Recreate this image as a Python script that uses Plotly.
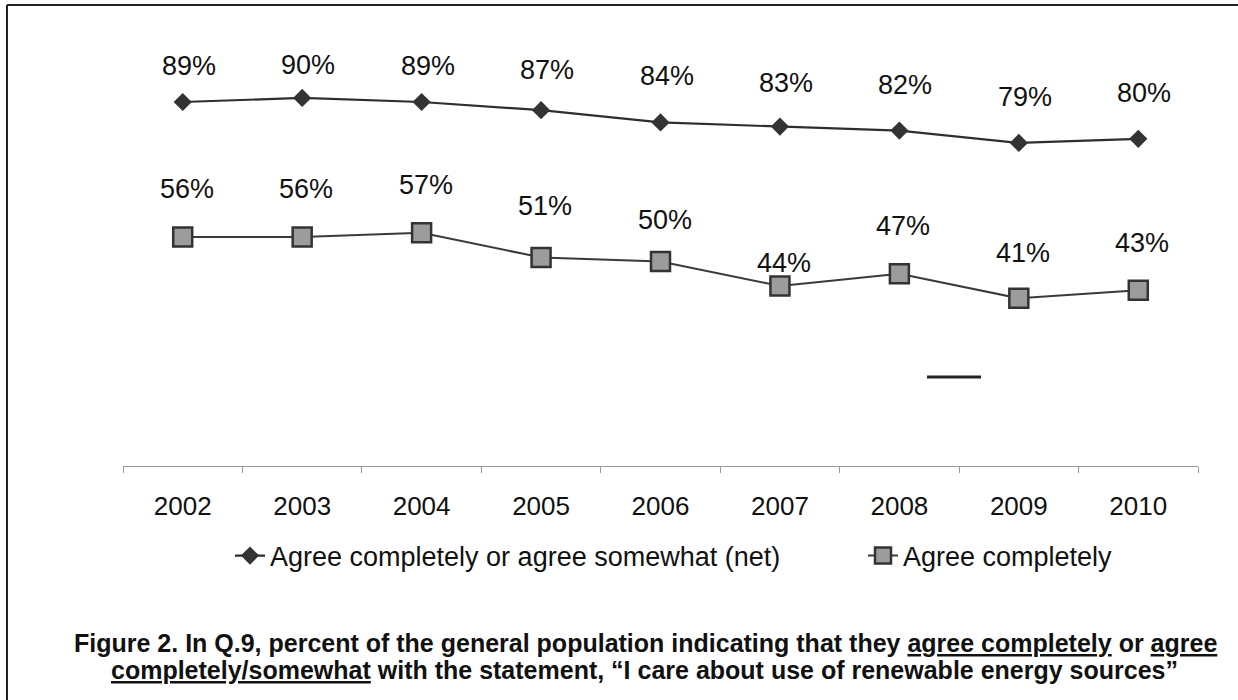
import plotly.graph_objects as go

years = ["2002", "2003", "2004", "2005", "2006", "2007", "2008", "2009", "2010"]
net_agree = [89, 90, 89, 87, 84, 83, 82, 79, 80]
complete_agree = [56, 56, 57, 51, 50, 44, 47, 41, 43]
series_names = ["Agree completely or agree somewhat (net)", "Agree completely"]

# label vertical offsets (px) as placed in the original
net_label_shift = [36, 33, 36, 40, 46, 44, 46, 46, 46]
comp_label_shift = [48, 48, 48, 51, 42, 23, 48, 45, 47]

FONT = "Liberation Sans, Arial, sans-serif"

fig = go.Figure()
fig.add_trace(go.Scatter(
    x=years, y=net_agree, name=series_names[0], mode="lines+markers",
    line=dict(color="#2e2e2e", width=2.2),
    marker=dict(symbol="diamond", size=14, color="#333333", line=dict(width=0)),
    legend="legend",
))
fig.add_trace(go.Scatter(
    x=years, y=complete_agree, name=series_names[1], mode="lines+markers",
    line=dict(color="#3a3a3a", width=2),
    marker=dict(symbol="square", size=19, color="#9c9c9c", line=dict(color="#333333", width=2.5)),
    legend="legend2",
))

annotations = []
for i, (v, s) in enumerate(zip(net_agree, net_label_shift)):
    annotations.append(dict(x=i, y=v, xref="x", yref="y", text=f"{v}%", showarrow=False,
                            yshift=s, xshift=6,
                            font=dict(family=FONT, size=27, color="#111111")))
for i, (v, s) in enumerate(zip(complete_agree, comp_label_shift)):
    annotations.append(dict(x=i, y=v, xref="x", yref="y", text=f"{v}%", showarrow=False,
                            yshift=s, xshift=4,
                            font=dict(family=FONT, size=27, color="#111111")))

# Caption
L, R, T, B = 123, 40, 57, 234
W, H = 1238 - L - R, 700 - T - B
def px(p):
    return (p - L) / W
def py(p):
    return (700 - B - p) / H

cap_font = dict(family="Liberation Sans, Arial", size=25, color="#111111")
annotations.append(dict(xref="paper", yref="paper", x=px(645), y=py(643), showarrow=False,
    text="<b>Figure 2. In Q.9, percent of the general population indicating that they <u>agree completely</u> or <u>agree</u></b>",
    font=cap_font, xanchor="center", yanchor="middle"))
annotations.append(dict(xref="paper", yref="paper", x=px(644), y=py(670), showarrow=False,
    text="<b><u>completely/somewhat</u> with the statement, \u201cI care about use of renewable energy sources\u201d</b>",
    font=cap_font, xanchor="center", yanchor="middle"))

shapes = [
    # outer frame (left and top edges visible)
    dict(type="line", xref="paper", yref="paper", x0=px(7), x1=px(1238), y0=py(5), y1=py(5),
         line=dict(color="#222222", width=2)),
    dict(type="line", xref="paper", yref="paper", x0=px(7), x1=px(7), y0=py(5), y1=py(700),
         line=dict(color="#222222", width=2)),
    # stray mark
    dict(type="line", xref="paper", yref="paper", x0=px(927), x1=px(981), y0=py(377), y1=py(377),
         line=dict(color="#222222", width=3)),
]

legend_font = dict(family=FONT, size=27, color="#111111")
fig.update_layout(
    width=1238, height=700,
    margin=dict(l=L, r=R, t=T, b=B),
    paper_bgcolor="white", plot_bgcolor="white",
    font=dict(family=FONT, color="#111111"),
    showlegend=True,
    legend=dict(orientation="h", x=px(230), y=py(556), xanchor="left", yanchor="middle",
                font=legend_font, bgcolor="rgba(0,0,0,0)"),
    legend2=dict(orientation="h", x=px(863), y=py(556), xanchor="left", yanchor="middle",
                 font=legend_font, bgcolor="rgba(0,0,0,0)"),
    xaxis=dict(type="category", range=[-0.5, 8.5], showgrid=False, zeroline=False,
               showline=True, linecolor="#999999", linewidth=1,
               ticks="outside", tickson="boundaries", ticklen=6, tickcolor="#999999",
               ticklabelstandoff=17,
               tickfont=dict(family=FONT, size=26, color="#111111"), fixedrange=True),
    yaxis=dict(range=[0, 100], visible=False, fixedrange=True),
    annotations=annotations,
    shapes=shapes,
)

fig.write_html("out.html")
